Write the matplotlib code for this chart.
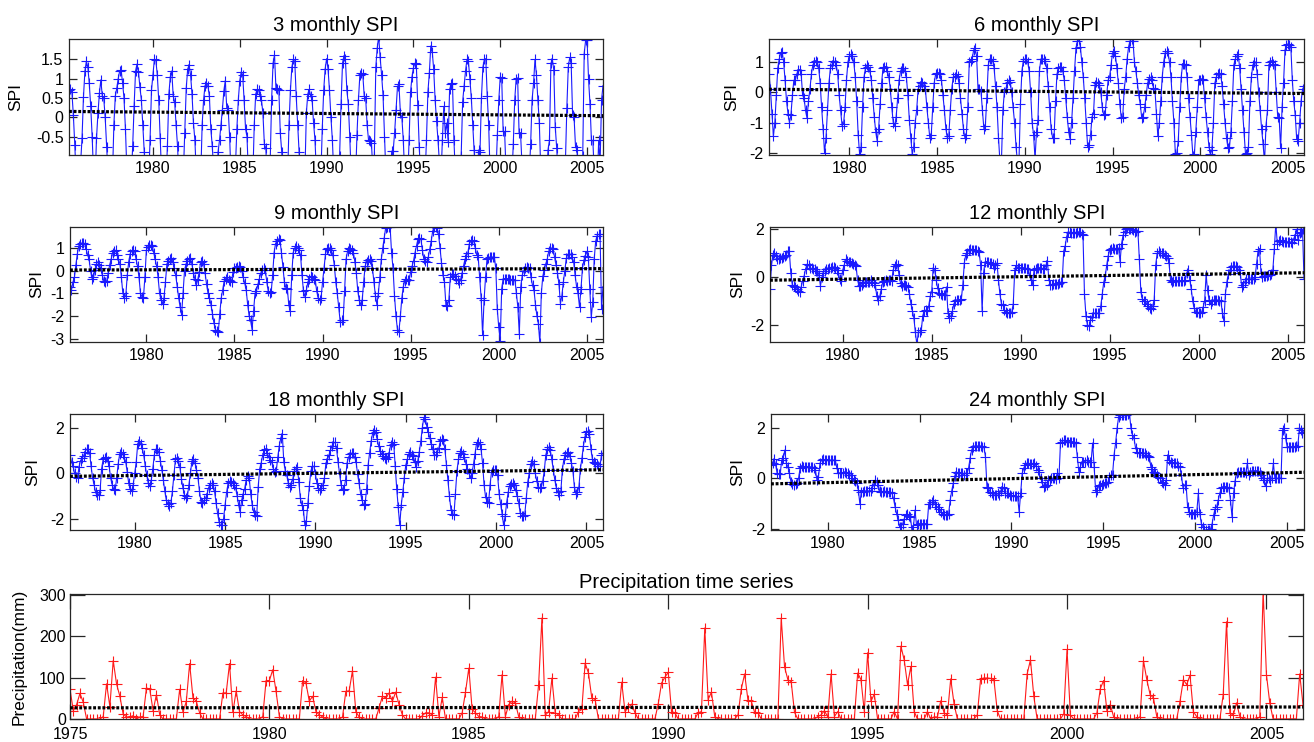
import numpy as np
import matplotlib
matplotlib.use("Agg")
import matplotlib.pyplot as plt
from matplotlib.ticker import FuncFormatter

plt.rcParams['font.family'] = ['Liberation Sans', 'DejaVu Sans']
plt.rcParams['axes.unicode_minus'] = False

# ---------------- data (monthly, Jan 1975 .. Dec 2005) ----------------
precip = [
    72, 20, 35, 62, 40, 0, 0, 0, 0, 0, 6, 85,          # 1975
    30, 141, 85, 55, 12, 5, 5, 8, 0, 5, 6, 75,         # 1976
    72, 20, 59, 10, 0, 0, 0, 0, 0, 72, 16, 43,         # 1977
    134, 51, 43, 15, 0, 0, 0, 0, 0, 0, 63, 63,         # 1978
    134, 16, 68, 18, 10, 6, 0, 0, 0, 0, 6, 93,         # 1979
    93, 119, 67, 6, 0, 0, 0, 0, 0, 0, 93, 87,          # 1980
    43, 55, 18, 10, 5, 0, 0, 0, 0, 0, 5, 67,           # 1981
    68, 117, 18, 5, 0, 0, 0, 0, 0, 27, 55, 51,         # 1982
    63, 43, 65, 35, 10, 0, 0, 0, 0, 0, 8, 15,          # 1983
    15, 10, 101, 6, 52, 0, 0, 0, 0, 0, 15, 65,         # 1984
    123, 23, 15, 6, 5, 0, 0, 0, 0, 6, 107, 6,          # 1985
    35, 43, 39, 6, 0, 0, 0, 0, 0, 83, 244, 9,          # 1986
    18, 99, 15, 10, 0, 0, 0, 0, 0, 18, 23, 135,        # 1987
    111, 51, 47, 0, 0, 0, 0, 0, 0, 0, 89, 18,          # 1988
    28, 36, 15, 0, 0, 0, 0, 0, 0, 37, 87, 101,         # 1989
    113, 18, 15, 0, 0, 0, 0, 0, 0, 15, 18, 220,        # 1990
    47, 65, 6, 0, 0, 0, 0, 0, 0, 10, 73, 109,          # 1991
    45, 43, 16, 15, 0, 0, 0, 0, 0, 0, 244, 126,        # 1992
    95, 90, 16, 0, 0, 0, 0, 0, 0, 6, 10, 20,           # 1993
    5, 109, 6, 18, 0, 0, 0, 0, 0, 111, 95, 18,         # 1994
    160, 43, 60, 0, 0, 0, 0, 0, 18, 0, 176, 143,       # 1995
    83, 127, 18, 0, 0, 0, 18, 0, 5, 5, 44, 15,         # 1996
    10, 97, 37, 0, 0, 0, 0, 0, 0, 10, 97, 99,          # 1997
    99, 98, 95, 20, 0, 0, 0, 0, 0, 0, 0, 0,            # 1998
    109, 143, 55, 0, 0, 0, 0, 0, 0, 0, 0, 12,          # 1999
    168, 10, 0, 0, 0, 0, 0, 0, 0, 15, 73, 93,          # 2000
    20, 35, 6, 0, 0, 0, 0, 0, 0, 0, 6, 141,            # 2001
    95, 59, 51, 6, 0, 0, 0, 0, 0, 0, 43, 95,           # 2002
    83, 106, 18, 6, 0, 0, 0, 0, 0, 0, 0, 60,           # 2003
    235, 15, 9, 39, 6, 0, 0, 0, 0, 0, 5, 310,          # 2004
    107, 39, 0, 0, 0, 0, 0, 0, 0, 0, 109, 35,          # 2005
]

spi3 = [
    0.70, 0.72, 0.65, 0.06, -0.72, -1.6, -1.8, -1.7, -1.2, -0.55,
    0.53, 1.2, 1.45, 1.3, 0.88, 0.28, -0.5, -1.5, -1.7, -0.55, 0.1, 0.62,
    0.97, 0.55, 0.5, 0.0, -0.76, -1.5, -1.8, -1.8, -1.6, -0.2, 0.55, 0.75,
    1.0, 1.2, 1.22, 0.9, 0.5, -0.3, -1.4, -1.8, -1.8, -1.6, -0.75, 0.3,
    1.2, 1.38, 1.18, 0.78, 0.45, -0.2, -0.9, -1.6, -1.8, -1.7, -0.6, 0.7,
    1.1, 1.5, 1.48, 1.1, 0.45, -0.55, -1.5, -1.8, -1.8, -1.7, -0.75, 0.6,
    1.05, 1.2, 0.55, 0.4, -0.2, -0.75, -1.6, -1.8, -1.8, -1.5, -0.4, 0.75,
    1.25, 1.35, 1.1, 0.6, -0.15, -0.6, -1.5, -1.8, -1.8, -1.6, -0.2, 0.45,
    0.82, 0.88, 0.82, 0.55, -0.3, -0.75, -1.4, -1.7, -1.8, -0.9, -0.6, -0.2,
    0.2, 0.68, 0.95, 0.25, 0.2, -0.5, -1.6, -1.8, -1.7, -1.3, -0.3, 0.45,
    0.95, 1.18, 1.1, 0.45, -0.3, -0.5, -1.5, -1.8, -1.8, -1.6, -0.2, 0.6,
    0.72, 0.7, 0.55, 0.45, 0.1, -0.7, -0.8, -1.6, -1.8, -1.2, 0.45, 1.4,
    1.62, 0.75, 0.72, 0.7, -0.4, -0.9, -1.6, -1.8, -1.8, -1.7, -0.2, 0.7,
    1.3, 1.5, 1.45, 0.55, -0.2, -0.9, -1.6, -1.8, -1.8, -1.5, 0.1, 0.6,
    0.72, 0.55, 0.45, -0.15, -0.6, -1.5, -1.8, -1.8, -1.6, -0.3, 0.7, 1.25,
    1.52, 1.25, 0.7, 0.0, -0.6, -1.5, -1.8, -1.8, -1.6, -1.0, 0.35, 1.4,
    1.6, 1.5, 0.7, 0.35, -0.5, -1.5, -1.8, -1.8, -1.6, -0.45, 0.45, 1.1,
    1.15, 1.12, 0.55, 0.5, -0.2, -0.6, -0.62, -0.68, -1.4, -1.0, 1.3, 1.8,
    2.1, 1.55, 1.1, 0.58, -0.5, -1.5, -1.8, -1.8, -1.6, -0.88, -0.88, -0.4,
    0.2, 0.8, 0.85, 0.1, 0.0, -0.6, -1.5, -1.8, -1.7, -0.6, 0.65, 1.05,
    1.28, 1.4, 1.37, 0.32, -0.76, -1.5, -1.8, -1.8, -1.6, -0.6, 0.65, 1.15,
    1.85, 1.7, 1.25, 0.45, -0.1, -0.6, -1.2, -1.6, -0.6, 0.28, -0.4, -0.15,
    -0.63, 0.72, 0.85, 0.88, -0.6, -1.5, -1.8, -1.8, -1.7, -1.0, 0.4, 0.8,
    1.2, 1.5, 1.45, 1.0, 0.5, -0.2, -0.85, -1.6, -1.8, -0.85, -0.9, 0.5,
    1.3, 1.5, 1.52, 0.55, -0.2, -1.5, -1.8, -1.8, -1.6, -1.5, -0.45, 0.45,
    1.05, 1.02, -0.37, -0.37, -1.4, -1.6, -1.8, -1.8, -1.6, -0.7, 0.45, 1.0,
    1.02, -0.4, -0.4, -1.2, -1.6, -1.8, -1.8, -1.7, -1.5, -0.7, 0.45, 0.88,
    1.5, 1.1, 0.45, -0.15, -1.4, -1.7, -1.8, -1.8, -1.6, -0.85, -0.6, 1.4,
    1.5, 1.23, -0.25, -0.8, -1.5, -1.8, -1.8, -1.8, -1.6, -1.2, 0.23, 1.3,
    1.55, 1.4, 0.05, 0.0, -0.76, -0.85, -1.5, -1.8, -1.6, -1.0, 1.65, 2.0,
    2.0, 1.0, 0.35, -0.6, -0.6, -1.5, -1.8, -1.8, -0.6, -1.2, 0.45, 0.82,
]

spi6 = [
    0.6, 0.1, -0.7, -1.45, -1.0, -0.1, 0.8,
    1.1, 1.3, 1.33, 1.0, 0.4, -0.3, -0.7, -1.0, -0.75, -0.1, 0.4, 0.4,
    0.6, 0.75, 0.75, 0.6, -0.1, -0.2, -0.6, -0.85, -0.3, 0.1, 0.6, 0.9,
    1.0, 1.05, 1.0, 0.8, 0.3, -0.5, -1.2, -2.0, -1.5, -0.6, 0.3, 0.8,
    0.9, 1.05, 1.0, 0.9, 0.6, -0.1, -0.6, -1.1, -1.05, -0.5, 0.4, 1.0,
    1.2, 1.25, 1.2, 1.0, 0.5, -0.3, -1.4, -2.05, -1.8, -0.5, 0.5, 0.8,
    0.9, 0.85, 0.7, 0.4, -0.2, -0.8, -1.3, -1.6, -1.2, -0.4, 0.3, 0.8,
    0.85, 0.85, 0.7, 0.5, 0.1, -0.5, -1.0, -1.1, -0.8, -0.2, 0.4, 0.7,
    0.8, 0.8, 0.7, 0.5, -0.1, -0.9, -1.5, -2.05, -1.8, -1.0, -0.6, 0.1,
    0.2, 0.35, 0.3, 0.2, 0.1, -0.5, -1.0, -1.5, -1.4, -0.5, 0.3, 0.6,
    0.65, 0.65, 0.6, 0.4, -0.1, -0.6, -1.2, -1.5, -1.45, -0.6, 0.1, 0.5,
    0.5, 0.6, 0.55, 0.3, -0.2, -0.7, -1.2, -1.5, -1.4, -0.5, 1.0, 1.05,
    1.1, 1.4, 1.45, 1.2, 0.1, 0.1, 0.05, -0.6, -1.2, -1.1, -0.2, 0.9,
    1.1, 1.1, 1.05, 0.8, 0.2, -0.5, -1.5, -2.3, -2.3, -0.6, 0.0, 0.1,
    0.3, 0.4, 0.35, 0.0, -0.5, -1.0, -1.8, -2.3, -2.3, -0.4, 0.7, 1.05,
    1.1, 1.1, 1.0, 0.7, 0.0, -1.0, -1.4, -2.2, -1.3, -0.9, 0.7, 1.1,
    1.1, 1.1, 1.05, 0.8, 0.2, -0.5, -1.2, -1.5, -1.5, -0.3, 0.6, 0.8,
    0.85, 0.85, 0.7, 0.4, -0.2, -0.8, -1.3, -1.55, -1.0, -0.2, 0.7, 1.45,
    1.7, 1.75, 1.5, 1.0, 0.5, -0.2, -1.0, -1.8, -1.75, -1.4, -0.8, -0.7,
    0.25, 0.35, 0.3, 0.25, 0.0, -0.5, -0.75, -0.7, -0.1, 0.4, 0.5, 0.9,
    1.3, 1.35, 1.2, 0.8, 0.3, -0.4, -0.85, -0.8, 0.1, 0.5, 1.1, 1.5,
    1.7, 1.75, 1.7, 1.0, 0.7, 0.3, -0.1, -0.4, -0.85, -0.8, -0.5, -0.1,
    0.3, 0.45, 0.5, 0.4, 0.15, 0.1, -0.7, -1.45, -1.0, -0.3, 0.5, 1.0,
    1.3, 1.35, 1.3, 1.0, 0.5, -0.3, -1.0, -2.05, -2.0, -1.6, -0.5, 0.5,
    0.95, 0.95, 0.9, 0.5, -0.2, -0.8, -1.4, -2.1, -2.05, -1.3, -0.5, 0.4,
    0.4, 0.45, 0.4, -0.2, -0.8, -1.3, -1.8, -2.05, -1.9, -1.0, 0.3, 0.5,
    0.6, 0.65, 0.6, 0.2, -0.4, -1.0, -1.5, -1.85, -1.8, -1.3, -0.3, 0.9,
    1.1, 1.2, 1.25, 0.8, 0.1, -0.6, -1.3, -2.05, -2.0, -1.8, -0.3, 0.5,
    0.9, 1.0, 1.0, 0.6, 0.0, -0.6, -1.2, -1.7, -2.3, -1.1, -0.6, 0.9,
    1.0, 1.05, 0.95, 0.9, 0.0, -0.8, -0.85, -1.85, -0.5, 0.3, 1.4, 1.55,
    1.6, 1.55, 1.5, 0.4, -0.3, -0.75, -1.55, -1.6, -1.0, -0.3, 0.1, 0.2,
]

spi9 = [
    -0.7, -0.85, -0.5, -0.3,
    0.25, 0.75, 1.1, 1.2, 1.22, 1.22, 1.2, 0.95, 0.7, 0.5, 0.0, -0.35,
    -0.3, 0.05, 0.3, 0.4, 0.25, 0.1, -0.2, -0.45, -0.5, -0.45, -0.1, 0.25,
    0.5, 0.8, 0.88, 0.9, 0.7, 0.5, 0.3, -0.3, -1.0, -1.2, -1.1, -0.2,
    0.4, 0.75, 0.88, 0.9, 0.85, 0.5, 0.2, -0.3, -1.0, -1.15, -1.2, -0.3,
    0.9, 1.05, 1.12, 1.12, 1.1, 0.8, 0.5, 0.2, -0.3, -1.0, -1.3, -1.45,
    -1.2, -0.5, 0.3, 0.45, 0.5, 0.55, 0.4, 0.1, -0.2, -0.7, -1.2, -1.6,
    -1.95, -1.0, 0.0, 0.3, 0.45, 0.5, 0.55, 0.3, -0.1, -0.35, -0.65, -0.4,
    -0.05, 0.4, 0.45, 0.3, -0.1, -0.6, -1.0, -1.2, -1.5, -1.9, -2.3, -2.6,
    -2.65, -2.7, -1.9, -1.2, -0.85, -0.45, -0.35, -0.3, -0.4, -0.45, -0.5, -0.05,
    0.1, 0.12, 0.15, 0.2, 0.15, 0.0, -0.3, -0.55, -0.85, -1.5, -2.0, -2.2,
    -2.6, -1.8, -1.0, -0.9, -0.6, -0.35, -0.1, 0.05, 0.1, 0.05, -0.5, -0.9,
    -1.0, -0.95, -0.2, 0.8, 1.2, 1.32, 1.4, 1.35, 0.8, 0.18, -0.5, -0.75,
    -0.8, -1.5, -1.8, -0.2, 0.8, 1.0, 1.1, 1.0, 0.9, 0.7, -0.2, -0.9,
    -1.15, -0.85, -0.5, -0.35, -0.25, -0.3, -0.35, -0.4, -0.9, -1.2, -1.3, -1.2,
    -0.5, 0.1, 0.75, 0.95, 1.0, 1.0, 0.9, 0.7, 0.25, -0.5, -1.0, -1.6,
    -2.25, -2.2, -2.2, -0.9, 0.5, 0.85, 1.0, 0.95, 0.9, 0.8, 0.4, -0.1,
    -0.9, -1.3, -1.5, -1.3, -0.5, 0.2, 0.4, 0.47, 0.5, 0.45, 0.1, -0.5,
    -1.1, -1.5, -1.0, -0.3, 0.5, 1.0, 1.45, 1.9, 1.95, 1.95, 1.95, 0.8,
    0.1, -1.1, -2.0, -2.6, -2.7, -2.0, -1.2, -0.7, -0.45, -0.35, -0.4, -0.4,
    -0.05, 0.2, 0.45, 0.8, 1.1, 1.4, 1.45, 1.4, 0.9, 0.5, 0.42, 0.4,
    0.6, 0.95, 1.3, 1.75, 1.92, 1.95, 1.9, 1.6, 1.0, 0.35, -0.2, -0.5,
    -1.5, -1.55, -1.3, -0.3, -0.15, -0.15, -0.25, -0.35, -0.4, -0.55, -0.4, -0.1,
    0.2, 0.5, 0.65, 0.8, 1.2, 1.3, 1.35, 1.3, 1.0, 0.7, 0.6, -0.3,
    -1.2, -2.85, -1.3, -0.3, 0.5, 0.58, 0.6, 0.6, 0.6, 0.6, 0.1, -1.7,
    -2.5, -3.1, -0.8, -0.35, -0.35, -0.35, -0.35, -0.35, -0.4, -0.4, -0.4, -0.4,
    -1.0, -1.6, -2.8, -0.7, -0.2, 0.0, 0.12, 0.15, 0.12, 0.1, -0.3, -0.65,
    -0.85, -1.5, -2.0, -2.35, -3.2, -1.0, -0.25, 0.05, 0.3, 0.5, 0.85, 1.0,
    1.0, 0.98, 0.6, 0.25, -0.1, -0.6, -1.45, -1.1, -0.5, 0.0, 0.55, 0.72,
    0.75, 0.72, 0.6, 0.4, -0.2, -0.7, -1.0, -1.6, -0.8, 0.1, 0.47, 0.65,
    0.85, 0.6, -0.8, -2.05, -1.4, 0.5, 1.3, 1.55, 1.6, 1.6, -1.7, -0.7,
]

spi12 = [
    -0.5,
    0.5, 0.95, 1.0, 0.9, 0.78, 0.75, 0.8, 0.82, 0.85, 0.88, 0.93, 1.1,
    1.1, 0.2, -0.3, -0.37, -0.4, -0.5, -0.57, -0.6, -0.4, -0.15, 0.05, 0.35,
    0.55, 0.5, 0.4, 0.37, 0.35, 0.33, 0.28, 0.28, 0.1, -0.35, 0.0, 0.2,
    0.27, 0.33, 0.35, 0.37, 0.4, 0.43, 0.43, 0.4, 0.3, 0.2, -0.07, -0.14,
    0.3, 0.5, 0.75, 0.7, 0.66, 0.65, 0.6, 0.57, 0.53, 0.47, -0.1, -0.36,
    -0.37, -0.3, -0.23, -0.2, -0.18, -0.2, -0.18, -0.1, -0.2, -0.22, -0.3, -0.8,
    -0.95, -0.8, -0.5, -0.2, -0.14, -0.12, -0.14, -0.12, -0.12, -0.14, 0.3, 0.47,
    0.55, 0.5, 0.1, -0.25, -0.35, -0.3, -0.3, -0.35, -0.4, -0.7, -1.1, -1.4,
    -1.7, -2.3, -2.8, -2.3, -2.3, -2.2, -1.6, -1.4, -1.37, -1.4, -1.2, -0.8,
    -0.6, 0.4, 0.3, -0.1, -0.45, -0.65, -0.7, -0.72, -0.74, -0.75, -0.4, -1.5,
    -1.68, -1.6, -1.4, -1.1, -1.0, -0.95, -0.95, -0.95, -0.9, -0.3, 0.6, 0.95,
    1.0, 1.15, 1.2, 1.15, 1.15, 1.15, 1.13, 1.1, 1.05, 0.5, -1.4, 0.2,
    0.65, 0.66, 0.62, 0.6, 0.6, 0.55, 0.4, 0.5, 0.6, -0.1, -0.7, -1.1,
    -1.15, -1.35, -1.45, -1.5, -1.5, -1.5, -1.45, -1.1, 0.3, 0.5, 0.4, 0.4,
    0.4, 0.4, 0.4, 0.37, 0.35, 0.36, 0.1, -0.1, -0.3, 0.3, 0.36, 0.38,
    0.4, 0.4, 0.38, 0.35, 0.35, 0.5, 0.7, -0.1, -0.3, -0.3, -0.27, -0.27,
    -0.27, -0.27, -0.24, -0.2, -0.2, 1.1, 1.3, 1.7, 1.9, 1.88, 1.86, 1.85,
    1.85, 1.87, 1.9, 1.9, 1.88, 1.8, 1.77, -0.7, -1.6, -2.0, -2.05, -1.8,
    -1.65, -1.5, -1.5, -1.5, -1.5, -1.5, -1.2, -0.7, -0.2, 0.05, 0.5, 0.9,
    1.13, 1.2, 1.22, 1.2, 1.18, 1.2, 1.22, 0.65, 1.4, 1.75, 1.9, 2.0,
    2.05, 2.0, 2.02, 2.0, 1.98, 1.9, 1.92, 1.95, 0.75, -0.6, -0.9, -1.0,
    -1.0, -1.1, -1.2, -1.3, -1.32, -1.2, -0.95, 0.5, 1.0, 1.08, 1.0, 1.0,
    1.0, 0.95, 0.9, 0.8, 0.6, -0.1, -0.18, -0.14, -0.14, -0.14, -0.14, -0.14,
    -0.14, -0.14, -0.14, -0.1, 0.2, 0.3, -0.1, -0.5, -1.0, -1.3, -1.43, -1.45,
    -1.48, -1.5, -1.45, -1.25, -1.0, 0.1, -0.55, -0.95, -1.1, -1.0, -0.95, -0.95,
    -0.95, -0.95, -0.97, -1.0, -1.5, -1.84, -0.7, -0.2, 0.15, 0.3, 0.45, 0.47,
    0.47, 0.46, 0.42, 0.3, 0.2, -0.4, -0.3, -0.2, -0.07, -0.07, -0.07, -0.07,
    -0.07, -0.07, 0.0, 0.55, 1.1, 1.2, 0.2, 0.0, 0.05, 0.07, 0.07, 0.08,
    0.1, 0.14, 0.3, 1.2, 2.25, 1.4, 1.5, 1.55, 1.5, 1.48, 1.48, 1.47,
    1.47, 1.47, 1.47, 1.45, 1.6, 1.75, 2.0, 1.55, 1.84, 1.9, 2.0, -0.05,
]

spi18 = [
    0.8, 0.48, 0.33, 0.0, -0.18, -0.2, 0.28,
    0.55, 0.65, 0.75, 0.95, 1.05, 1.05, 0.9, 0.3, -0.2, -0.5, -0.85, -0.98,
    -0.95, -0.75, 0.2, 0.6, 0.66, 0.7, 0.55, 0.3, -0.22, -0.5, -0.7, -0.75,
    -0.2, 0.4, 0.85, 0.95, 0.82, 0.7, 0.5, 0.05, -0.45, -0.7, -0.78, -0.5,
    0.0, 0.5, 1.3, 1.42, 1.3, 1.1, 0.78, 0.3, -0.1, -0.45, -0.58, -0.3,
    0.2, 0.8, 1.05, 1.05, 0.93, 0.55, 0.15, -0.3, -0.8, -1.2, -1.35, -1.45,
    -1.3, -0.8, -0.1, 0.6, 0.68, 0.55, 0.25, -0.25, -0.65, -0.95, -1.1, -1.0,
    -0.5, 0.0, 0.55, 0.63, 0.45, 0.13, -0.2, -0.8, -1.25, -1.3, -1.2, -1.1,
    -0.93, -0.65, -0.5, -0.45, -0.5, -0.8, -1.3, -1.75, -2.15, -2.3, -2.3, -2.0,
    -1.4, -0.85, -0.45, -0.36, -0.4, -0.45, -0.5, -0.65, -1.0, -1.4, -1.7, -1.2,
    -0.9, -0.7, -0.3, -0.12, -0.2, -0.9, -1.4, -1.7, -1.85, -1.9, -0.6, 0.2,
    0.45, 0.8, 1.0, 1.08, 0.9, 0.7, 0.58, 0.48, 0.2, 0.05, 0.1, 0.7,
    1.2, 1.55, 1.72, 0.5, 0.1, -0.1, -0.45, -0.6, -0.5, -0.25, 0.1, 0.2,
    0.25, -0.4, -1.1, -1.4, -1.6, -2.3, -2.1, -1.3, -0.55, 0.1, 0.3, 0.3,
    -0.05, -0.45, -0.65, -0.72, -0.66, -0.5, -0.2, 0.45, 0.6, 0.8, 1.0, 1.2,
    1.35, 1.35, 1.1, 0.5, 0.0, -0.5, -0.72, -0.7, -0.3, 0.45, 0.7, 0.82,
    0.88, 0.87, 0.7, 0.5, -0.05, -0.45, -0.9, -1.2, -1.4, -1.35, -0.7, 0.35,
    0.9, 1.4, 1.75, 1.9, 1.8, 1.5, 1.2, 0.97, 0.85, 0.75, 0.65, 0.6,
    0.7, 0.9, 1.25, 1.35, 1.3, 0.3, -0.7, -1.5, -2.3, -1.4, -0.85, -0.2,
    0.35, 0.6, 0.85, 0.93, 0.8, 0.75, 0.5, 0.25, 0.55, 0.95, 1.4, 2.0,
    2.45, 2.4, 2.05, 1.8, 1.55, 1.3, 1.05, 0.78, 0.8, 0.93, 1.1, 1.4,
    1.48, 1.45, 1.05, 0.35, -0.3, -1.0, -1.6, -1.8, -1.85, -0.9, 0.1, 0.6,
    0.88, 0.98, 0.85, 0.7, 0.4, 0.2, 0.0, -0.2, 0.0, 0.4, 0.85, 1.3,
    1.38, 1.3, 1.05, 0.45, -0.5, -1.05, -1.25, -1.3, -0.5, 0.07, 0.14, 0.15,
    0.12, -0.1, -0.9, -1.35, -1.8, -2.3, -1.9, -1.3, -0.85, -0.55, -0.47, -0.45,
    -0.5, -0.75, -1.0, -1.3, -1.75, -1.9, -1.9, -1.85, -1.1, -0.4, 0.0, 0.4,
    0.55, 0.4, 0.0, -0.35, -0.6, -0.65, -0.6, -0.35, 0.1, 0.8, 1.05, 1.15,
    1.0, 0.6, 0.15, -0.3, -0.65, -0.85, -0.95, -0.8, 0.15, 0.6, 0.8, 0.9,
    0.95, 0.75, 0.45, 0.1, -0.6, -0.9, -0.85, -0.6, 0.2, 0.65, 1.2, 1.6,
    1.8, 1.85, 1.7, 1.05, 0.6, 0.5, 0.45, 0.38, 0.3, 0.3, 0.8, 0.88,
]

spi24 = [
    0.53,
    0.62, 0.75, 0.55, 0.2, 0.17, 0.18, 0.72, 0.8, 1.12, 0.6, 0.46, 0.2,
    -0.13, -0.22, -0.26, -0.24, -0.2, 0.0, 0.4, 0.5, 0.43, 0.45, 0.46, 0.46,
    0.46, 0.45, 0.46, 0.4, 0.33, -0.07, 0.07, 0.6, 0.72, 0.75, 0.72, 0.72,
    0.72, 0.72, 0.72, 0.72, 0.72, 0.72, 0.4, 0.2, 0.22, 0.2, 0.2, 0.26,
    0.2, 0.2, 0.15, 0.13, 0.0, -0.05, -0.1, -0.2, -0.46, -1.0, -0.53, -0.53,
    -0.5, -0.5, -0.5, -0.5, -0.5, -0.4, -0.26, -0.07, -0.15, -0.26, -0.5, -0.53,
    -0.53, -0.5, -0.53, -0.53, -0.55, -0.55, -0.6, -0.8, -1.13, -1.4, -1.65, -1.92,
    -1.92, -1.8, -1.6, -1.45, -1.4, -1.5, -1.52, -2.05, -1.92, -1.26, -1.85, -1.8,
    -1.8, -1.8, -1.8, -1.8, -1.8, -1.8, -1.0, -1.0, -0.95, -0.86, -1.0, -1.13,
    -1.13, -1.2, -1.33, -1.4, -1.46, -1.46, -1.46, -1.4, -0.86, -0.5, -0.2, 0.1,
    0.26, 0.2, 0.2, 0.2, 0.2, 0.15, 0.2, 0.2, 0.4, 0.8, 1.12, 1.25,
    1.28, 1.28, 1.28, 1.28, 1.28, 1.25, 1.25, 0.86, -0.33, -0.4, -0.53, -0.6,
    -0.66, -0.66, -0.66, -0.6, -0.66, -0.5, -0.33, -0.4, -0.6, -0.6, -0.6, -0.66,
    -0.72, -0.72, -0.72, -0.72, -0.72, -1.33, -0.6, 0.2, 0.4, 0.53, 0.6, 0.6,
    0.55, 0.55, 0.58, 0.6, 0.5, 0.33, 0.26, 0.0, -0.13, -0.33, -0.3, -0.26,
    -0.07, -0.05, 0.0, 0.0, 0.0, -0.03, 0.2, 0.0, 1.4, 1.45, 1.5, 1.52,
    1.45, 1.45, 1.45, 1.45, 1.45, 1.45, 1.4, 0.86, 0.26, 0.46, 0.66, 0.66,
    0.66, 0.72, 0.66, 0.66, 0.66, 1.4, 0.46, -0.53, -0.46, -0.3, -0.26, -0.26,
    -0.22, -0.2, -0.2, -0.15, 0.07, 0.13, 0.13, 0.93, 1.4, 2.0, 2.45, 2.5,
    2.5, 2.5, 2.5, 2.5, 2.55, 2.6, 2.0, 1.72, 1.6, 1.2, 1.06, 1.0,
    1.0, 1.0, 1.0, 1.0, 0.93, 0.9, 0.86, 0.46, 0.35, 0.26, 0.2, 0.13,
    0.05, 0.0, -0.13, -0.2, -0.26, -0.07, 0.93, 0.72, 0.66, 0.6, 0.6, 0.6,
    0.6, 0.5, 0.46, 0.13, -0.4, -0.26, -0.26, -1.13, -1.33, -1.4, -1.4, -1.4,
    -1.4, -1.33, -0.6, -1.4, -1.8, -1.92, -2.05, -2.05, -2.05, -2.05, -2.0, -1.8,
    -1.46, -1.2, -1.13, -0.86, -0.6, -0.4, -0.33, -0.33, -0.33, -0.36, -0.4, -0.86,
    -1.52, -0.6, -0.1, 0.2, 0.26, 0.26, 0.26, 0.26, 0.26, 0.2, 0.6, 0.13,
    0.26, 0.3, 0.3, 0.3, 0.3, 0.3, 0.25, 0.13, 0.0, -0.07, -0.3, 0.0,
    0.0, -0.07, 0.0, 0.6, 0.0, 0.0, 0.0, 0.0, 0.0, 1.92, 2.0, 1.6,
    1.25, 1.25, 1.25, 1.25, 1.25, 1.25, 1.3, 1.3, 2.0, 1.9, 1.8, 1.85,
]

# linear trend end values (start, end)
trend3 = [0.15, 0.04]
trend6 = [0.10, -0.04]
trend9 = [0.03, 0.09]
trend12 = [-0.12, 0.19]
trend18 = [-0.14, 0.15]
trend24 = [-0.22, 0.24]
trend_p = [27, 29]

titles = ["3 monthly SPI", "6 monthly SPI", "9 monthly SPI",
          "12 monthly SPI", "18 monthly SPI", "24 monthly SPI"]
scales = [3, 6, 9, 12, 18, 24]
series = [spi3, spi6, spi9, spi12, spi18, spi24]
trends = [trend3, trend6, trend9, trend12, trend18, trend24]
ylims = [(-0.98, 2.03), (-2.07, 1.76), (-3.15, 1.93),
         (-2.7, 2.1), (-2.5, 2.6), (-2.05, 2.55)]
yticks = [[-0.5, 0, 0.5, 1, 1.5], [-2, -1, 0, 1], [-3, -2, -1, 0, 1],
          [-2, 0, 2], [-2, 0, 2], [-2, 0, 2]]
xticks_spi = [1980, 1985, 1990, 1995, 2000, 2005]
xticks_p = [1975, 1980, 1985, 1990, 1995, 2000, 2005]

# ---------------- figure ----------------
W, H = 1314, 742
fig = plt.figure(figsize=(W / 100, H / 100), dpi=100)

def px_axes(x0, y0, x1, y1):
    return fig.add_axes([x0 / W, 1 - y1 / H, (x1 - x0) / W, (y1 - y0) / H])

frame_col = '#262626'
fmt = FuncFormatter(lambda v, p: ('%g' % v))
trend_style = dict(color='black', lw=2.3, linestyle=(0, (0.9, 0.55)),
                   dash_capstyle='butt', zorder=3)

def style(ax, ticklen):
    for s in ax.spines.values():
        s.set_color(frame_col)
        s.set_linewidth(0.9)
    ax.tick_params(direction='in', top=True, right=True, length=ticklen,
                   width=0.9, color=frame_col, labelsize=11.5, pad=4,
                   labelcolor='black')
    ax.yaxis.set_major_formatter(fmt)

boxes = [(69, 39, 603, 155), (769, 39, 1304, 155),
         (70, 227, 603, 342), (770, 227, 1304, 342),
         (70, 414, 603, 530), (771, 414, 1304, 530)]
label_pads = [9, 7, 4, 4, 7, 4.5]

t_base = 1975.0
for k, (title, sc, ser, tr, yl, yt, bx) in enumerate(
        zip(titles, scales, series, trends, ylims, yticks, boxes)):
    ax = px_axes(*bx)
    t = t_base + (sc - 1 + np.arange(len(ser))) / 12.0
    ax.plot(t, ser, '-', color='#1a1aff', lw=0.8, marker='+', ms=7,
            mew=0.8, zorder=2)
    ax.plot([t[0], t[-1]], tr, **trend_style)
    ax.set_xlim(t[0], t[-1])
    ax.set_ylim(*yl)
    ax.set_xticks(xticks_spi)
    ax.set_yticks(yt)
    ax.set_ylabel('SPI', fontsize=12.5, labelpad=label_pads[k])
    ax.set_title(title, fontsize=14.5, pad=6)
    style(ax, 5.5)

axp = px_axes(70, 594, 1303, 719)
tp = t_base + np.arange(len(precip)) / 12.0
axp.plot(tp, precip, '-', color='#ff1a1a', lw=0.8, marker='+', ms=7.5,
         mew=0.8, zorder=2)
axp.plot([tp[0], tp[-1]], trend_p, **trend_style)
axp.set_xlim(tp[0], tp[-1])
axp.set_ylim(0, 302)
axp.set_xticks(xticks_p)
axp.set_yticks([0, 100, 200, 300])
axp.set_ylabel('Precipitation(mm)', fontsize=12.5, labelpad=9)
axp.set_title('Precipitation time series', fontsize=14.5, pad=4)
style(axp, 11)
axp.tick_params(axis='x', pad=6)
axp.tick_params(axis='y', pad=3)

fig.savefig('out.png', dpi=100)
